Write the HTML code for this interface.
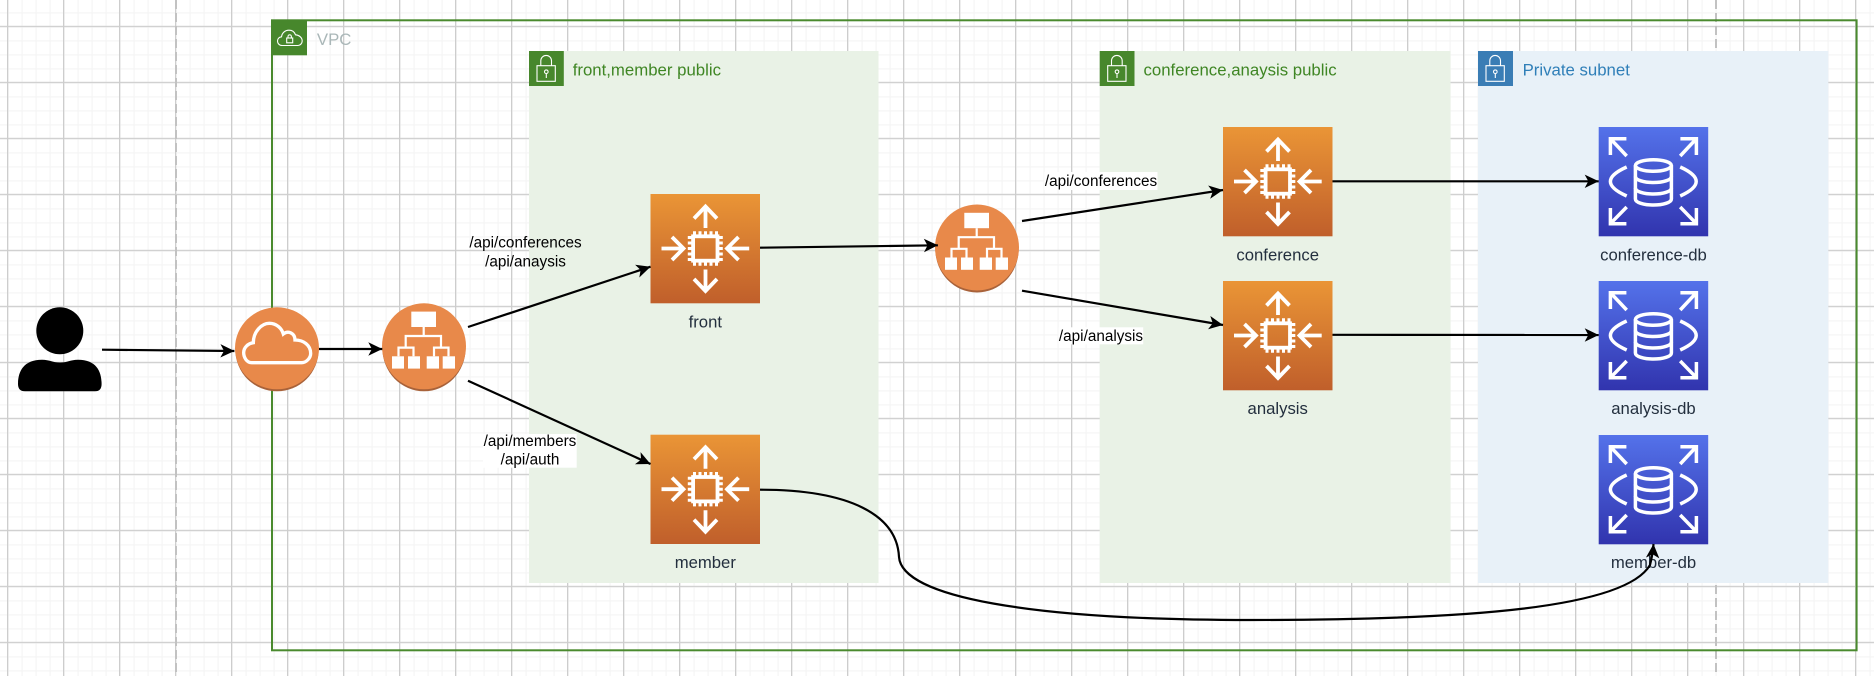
<!DOCTYPE html>
<html><head><meta charset="utf-8"><style>
html,body{margin:0;padding:0;background:#fff;width:1874px;height:676px;overflow:hidden}
svg{display:block;filter:blur(.35px)}
text{font-family:"Liberation Sans",Arial,sans-serif}
.n{font-size:16.7px;fill:#232f3e;text-anchor:middle}
.g{font-size:16.8px}
.e{font-size:15.3px;fill:#000;text-anchor:middle}
</style></head><body>
<svg width="1874" height="676" viewBox="0 0 1874 676" xmlns="http://www.w3.org/2000/svg">
<defs>
<pattern id="minor" width="14" height="14" patternUnits="userSpaceOnUse" x="7.5" y="26.3">
<path d="M0 0V14M0 0H14" stroke="#f5f5f5" stroke-width="2.4" fill="none"/>
</pattern>
<pattern id="major" width="56" height="56" patternUnits="userSpaceOnUse" x="7" y="25.8">
<path d="M.6 0V56M0 .6H56" stroke="#cdcdcd" stroke-width="1.3" fill="none"/>
</pattern>
<linearGradient id="or" x1="0" y1="0" x2="0" y2="1"><stop offset="0" stop-color="#ea9536"/><stop offset="1" stop-color="#c05f2b"/></linearGradient>
<linearGradient id="bl" x1="0" y1="0" x2="0" y2="1"><stop offset="0" stop-color="#5472ea"/><stop offset="1" stop-color="#3134ae"/></linearGradient>
<marker id="ar" markerUnits="userSpaceOnUse" markerWidth="20" markerHeight="20" refX="15" refY="8" orient="auto">
<path d="M15 8L1 1.3L4.6 8L1 14.7Z" fill="#000"/>
</marker>
<g id="ec2">
<rect width="109.5" height="109.3" fill="url(#or)"/>
<g fill="none" stroke="#fff" stroke-width="3.8">
<rect x="42.6" y="42.3" width="24.4" height="24.4"/>
<path d="M55 34V13M43.5 24.5L55 12.5L66.5 24.5"/>
<path d="M55 75.5V96M43.5 85L55 97L66.5 85"/>
<path d="M11 54.5H33M21.5 43L33 54.5L21.5 66"/>
<path d="M98.7 54.5H77M88 43L76.5 54.5L88 66"/>
<path stroke-width="3" d="M44 37.3V41M49.5 37.3V41M55 37.3V41M60.5 37.3V41M66 37.3V41M44 68V71.7M49.5 68V71.7M55 68V71.7M60.5 68V71.7M66 68V71.7M37.3 43.5H41M37.3 49H41M37.3 54.5H41M37.3 60H41M37.3 65.5H41M68.5 43.5H72.3M68.5 49H72.3M68.5 54.5H72.3M68.5 60H72.3M68.5 65.5H72.3"/>
</g>
</g>
<g id="db">
<rect width="109.5" height="109.3" fill="url(#bl)"/>
<g fill="none" stroke="#fff" stroke-width="3.5">
<path d="M11.7 28V11.7H27.7M11.7 11.7L28 29"/>
<path d="M97.7 28V11.7H81.7M97.7 11.7L81.5 29"/>
<path d="M11.7 81V96.7H27.7M11.7 96.7L28 80"/>
<path d="M97.7 81V96.7H81.7M97.7 96.7L81.5 80"/>
<path d="M28 40Q-4.6 54.5 28 69M81.5 40Q113.5 54.5 81.5 69"/>
<ellipse cx="54.7" cy="38.5" rx="18" ry="5.7"/>
<path d="M36.7 38.5V72C36.7 75.5 45 78 54.7 78S72.7 75.5 72.7 72V38.5"/>
<path d="M36.7 49.5C36.7 53 45 55.5 54.7 55.5S72.7 53 72.7 49.5M36.7 61C36.7 64.5 45 67 54.7 67S72.7 64.5 72.7 61"/>
</g>
</g>
<g id="alb">
<ellipse cx="42" cy="45" rx="41.6" ry="43" fill="#a8623a"/>
<ellipse cx="42" cy="43" rx="42" ry="43" fill="#e8894a"/>
<g fill="#fff">
<rect x="29.3" y="8.3" width="24.7" height="15.4"/>
<rect x="10" y="53" width="12" height="12.3"/><rect x="26" y="53" width="12" height="12.3"/>
<rect x="44.7" y="53" width="12.3" height="12.3"/><rect x="60.7" y="53" width="12.3" height="12.3"/>
</g>
<path fill="none" stroke="#fff" stroke-width="2.2" d="M41.7 23.7V32.7M23.7 43.5V32.7H59V43.5M16.5 53V44.3H31.5V53M52 53V44.3H66.5V53"/>
</g>
<g id="lock" fill="none" stroke="#fff" stroke-width="1.1">
<rect x="8" y="14.7" width="18.3" height="15.6"/>
<path d="M11.8 14.7V9.8A5.35 5.35 0 0 1 22.5 9.8V14.7"/>
<circle cx="17.3" cy="20.7" r="1.8"/><path d="M17.3 22.5V27"/>
</g>
</defs>

<rect width="1874" height="676" fill="#fff"/>
<rect width="1874" height="676" fill="url(#minor)"/>
<rect width="1874" height="676" fill="url(#major)"/>
<path d="M176 0V676M1716 0V676" stroke="#c2c2c2" stroke-width="2" stroke-dasharray="9 4" fill="none"/>

<!-- VPC -->
<rect x="272" y="20.3" width="1584.6" height="630" fill="none" stroke="#4a8a2e" stroke-width="2"/>
<rect x="271" y="20" width="36" height="35.3" fill="#47872c"/>
<g fill="none" stroke="#fff" stroke-width="1.1" transform="translate(271 20)">
<path d="M11 25.5C8 25.5 6.5 23 6.5 21C6.5 18.5 8.5 17 10.5 16.8C11 13 14 10.2 18 10.2C21 10.2 23.5 12 24.5 14.8C28 15 31.2 17.5 31.2 21C31.2 23.5 29 25.5 27 25.5Z"/>
<rect x="15.7" y="18" width="6" height="4.8"/><path d="M17 18V16.5A1.7 1.7 0 0 1 20.4 16.5V18"/>
</g>
<text class="g" x="316.9" y="45" fill="#aab7b8">VPC</text>

<!-- subnets -->
<rect x="529" y="51" width="349.5" height="532" fill="#e9f2e6"/>
<rect x="529" y="51" width="34.8" height="35" fill="#47872c"/>
<use href="#lock" x="529" y="51"/>
<text class="g" x="572.7" y="75.3" fill="#3f8624">front,member public</text>

<rect x="1099.7" y="51" width="350.8" height="532" fill="#e9f2e6"/>
<rect x="1099.7" y="51" width="34.8" height="35" fill="#47872c"/>
<use href="#lock" x="1099.7" y="51"/>
<text class="g" x="1143.5" y="75.3" fill="#3f8624">conference,anaysis public</text>

<rect x="1478" y="51" width="350.3" height="532" fill="#e8f1f8"/>
<rect x="1478" y="51" width="35" height="35" fill="#3a7db5"/>
<use href="#lock" x="1478" y="51"/>
<text class="g" x="1522.6" y="75.3" fill="#2f7fb8">Private subnet</text>

<!-- nodes -->
<use href="#ec2" x="650.5" y="194"/>
<use href="#ec2" x="650.5" y="434.7"/>
<use href="#ec2" x="1223" y="127"/>
<use href="#ec2" x="1223" y="281"/>
<use href="#db" x="1598.7" y="127"/>
<use href="#db" x="1598.7" y="281"/>
<use href="#db" x="1598.7" y="435"/>

<text class="n" x="705.3" y="327.3">front</text>
<text class="n" x="705.3" y="568">member</text>
<text class="n" x="1277.7" y="260.3">conference</text>
<text class="n" x="1277.7" y="414">analysis</text>
<text class="n" x="1653.5" y="260.3">conference-db</text>
<text class="n" x="1653.5" y="414">analysis-db</text>
<text class="n" x="1653.5" y="568">member-db</text>

<!-- person -->
<ellipse cx="59.8" cy="330.8" rx="23.5" ry="23.5" fill="#000"/>
<path d="M18 384C18 371 24 359.7 42 359.7C50 359.7 52 362.5 60 362.5C68 362.5 70 359.7 78 359.7C96 359.7 101.6 371 101.6 384Q101.6 391.3 95 391.3L25 391.3Q18 391.3 18 384Z" fill="#000"/>

<!-- cloud -->
<ellipse cx="277" cy="350" rx="41.6" ry="41.3" fill="#a8623a"/>
<ellipse cx="277" cy="348.3" rx="42" ry="41" fill="#e8894a"/>
<g transform="translate(220 290) scale(.33333)">
<path fill="none" stroke="#fff" stroke-width="10" d="M95 218C80 218 71 202 71 188C71 172 85 160 100 158C100 125 125 100 148 100C170 100 185 115 190 132C205 120 225 130 225 150C250 150 272 165 272 190C272 205 258 218 245 218Z"/>
</g>

<use href="#alb" x="382" y="303.3"/>
<use href="#alb" x="935" y="204.5"/>

<!-- connectors -->
<g fill="none" stroke="#000" stroke-width="2.2" marker-end="url(#ar)">
<path d="M102 349.7L234.4 351"/>
<path d="M319 349L382.3 349"/>
<path d="M468 327L650.5 266.7"/>
<path d="M468 380.7L650.5 464"/>
<path d="M760 247.7L937.9 245.3"/>
<path d="M1022 221L1223 190"/>
<path d="M1022 290.7L1223 325"/>
<path d="M1332.5 181.3L1598.7 181.3"/>
<path d="M1332.5 334.8L1598.7 335"/>
<path d="M760 489.7C850 489.7 897 515 899 557C902 597 1030 620 1250 620C1470 620 1625 608 1650 565C1652 557 1653 552 1653.5 544"/>
</g>

<!-- edge labels -->
<text class="e" x="525.5" y="247.7">/api/conferences</text>
<text class="e" x="525.5" y="266.7">/api/anaysis</text>
<rect x="483" y="434" width="93.7" height="33.7" fill="#fff"/>
<text class="e" x="530" y="446">/api/members</text>
<text class="e" x="530" y="464.3">/api/auth</text>
<rect x="1044.3" y="172" width="113.2" height="18" fill="#fff"/>
<text class="e" x="1101" y="186">/api/conferences</text>
<rect x="1058.6" y="327.3" width="84.6" height="17" fill="#fff"/>
<text class="e" x="1101" y="341">/api/analysis</text>
</svg>
</body></html>
